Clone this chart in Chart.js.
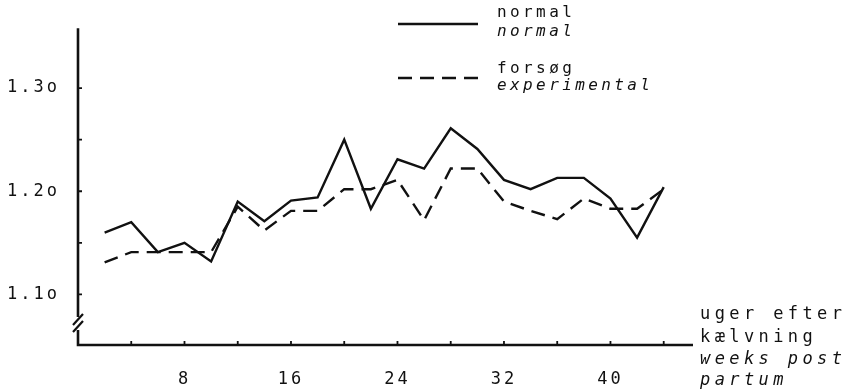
<!DOCTYPE html>
<html>
<head>
<meta charset="utf-8">
<script src="https://cdn.jsdelivr.net/npm/chart.js@4/dist/chart.umd.min.js"></script>
<style>
  html, body { margin: 0; padding: 0; background: #fff; }
  #wrap { width: 843px; height: 392px; }
</style>
</head>
<body>
<div id="wrap"><canvas id="c" width="843" height="392"></canvas></div>
<script>
// Weeks after calving and the two measured series
const weeks = [2, 4, 6, 8, 10, 12, 14, 16, 18, 20, 22, 24, 26, 28, 30, 32, 34, 36, 38, 40, 42, 44];
const normalValues = [1.160, 1.170, 1.141, 1.150, 1.132, 1.190, 1.171, 1.191, 1.194, 1.250, 1.183, 1.231,
                      1.222, 1.261, 1.241, 1.211, 1.202, 1.213, 1.213, 1.193, 1.155, 1.204];
const experimentalValues = [1.131, 1.141, 1.141, 1.141, 1.141, 1.185, 1.162, 1.181, 1.181, 1.202, 1.202, 1.211,
                            1.172, 1.222, 1.222, 1.190, 1.181, 1.173, 1.193, 1.183, 1.183, 1.202];

// Axis ticks and their printed labels
const xTickValues = [4, 8, 12, 16, 20, 24, 28, 32, 36, 40, 44];
const xLabelValues = [8, 16, 24, 32, 40];
const xTickLabels = ['8', '16', '24', '32', '40'];
const yTickValues = [1.10, 1.15, 1.20, 1.25, 1.30];
const yLabelValues = [1.10, 1.20, 1.30];
const yTickLabels = ['1.1o', '1.2o', '1.3o'];

// Legend and axis title texts
const seriesNamesDa = ['normal', 'forsøg'];
const seriesNamesEn = ['normal', 'experimental'];
const xTitleDa = ['uger efter', 'kælvning'];
const xTitleEn = ['weeks post', 'partum'];

const INK = '#111';
const MONO = '"DejaVu Sans Mono", "Liberation Mono", monospace';

const pointsOf = vals => weeks.map((w, i) => ({ x: w, y: vals[i] }));

// typewriter-like spacing for the tick labels
const typewriterSpacing = {
  id: 'typewriterSpacing',
  beforeDraw(chart) {
    chart.ctx.letterSpacing = '3px';
  }
};

const decorations = {
  id: 'decorations',
  afterDraw(chart) {
    const ctx = chart.ctx;
    const xs = chart.scales.x, ys = chart.scales.y;
    const l = chart.chartArea.left, r = chart.chartArea.right;
    const t = chart.chartArea.top, b = chart.chartArea.bottom;
    ctx.save();
    ctx.strokeStyle = INK;
    ctx.lineCap = 'butt';

    // axis lines, with the break marks on the value axis
    ctx.lineWidth = 2.6;
    ctx.beginPath();
    ctx.moveTo(l, t); ctx.lineTo(l, 317);
    ctx.moveTo(l, 330); ctx.lineTo(l, b);
    ctx.lineTo(r, b);
    ctx.stroke();
    ctx.lineWidth = 2.2;
    ctx.beginPath();
    ctx.moveTo(l - 5, 325); ctx.lineTo(l + 5, 314);
    ctx.moveTo(l - 5, 332); ctx.lineTo(l + 5, 321);
    ctx.stroke();

    // inward tick marks
    ctx.lineWidth = 1.8;
    ctx.beginPath();
    yTickValues.forEach(v => {
      const y = ys.getPixelForValue(v);
      ctx.moveTo(l, y); ctx.lineTo(l + 4, y);
    });
    xTickValues.forEach(v => {
      const x = xs.getPixelForValue(v);
      ctx.moveTo(x, b); ctx.lineTo(x, b - 4);
    });
    ctx.stroke();

    // legend
    ctx.fillStyle = INK;
    ctx.textBaseline = 'middle';
    ctx.textAlign = 'left';
    ctx.letterSpacing = '3.4px';
    const legendRows = [{ y: 24, t1: 13, t2: 32 }, { y: 78, t1: 69, t2: 86 }];
    chart.data.datasets.forEach((ds, i) => {
      const row = legendRows[i];
      ctx.lineWidth = ds.borderWidth + 0.3;
      ctx.setLineDash(ds.borderDash || []);
      ctx.beginPath();
      ctx.moveTo(398, row.y); ctx.lineTo(478, row.y);
      ctx.stroke();
      ctx.setLineDash([]);
      ctx.font = '16px ' + MONO;
      ctx.fillText(seriesNamesDa[i], 497, row.t1);
      ctx.font = 'italic 16px ' + MONO;
      ctx.fillText(seriesNamesEn[i], 497, row.t2);
    });

    // axis title at the right end of the week axis
    ctx.letterSpacing = '4.4px';
    ctx.font = '17px ' + MONO;
    ctx.fillText(xTitleDa[0], 700, 315);
    ctx.fillText(xTitleDa[1], 700, 338);
    ctx.font = 'italic 17px ' + MONO;
    ctx.fillText(xTitleEn[0], 700, 360);
    ctx.fillText(xTitleEn[1], 700, 381);
    ctx.restore();
  }
};

new Chart(document.getElementById('c'), {
  type: 'line',
  data: {
    datasets: [
      {
        label: seriesNamesDa[0],
        data: pointsOf(normalValues),
        borderColor: INK,
        borderWidth: 2.4,
        pointRadius: 0,
        tension: 0,
        fill: false
      },
      {
        label: seriesNamesDa[1],
        data: pointsOf(experimentalValues),
        borderColor: INK,
        borderWidth: 2.4,
        borderDash: [14, 8],
        pointRadius: 0,
        tension: 0,
        fill: false
      }
    ]
  },
  options: {
    responsive: false,
    animation: false,
    devicePixelRatio: 1,
    layout: { padding: { left: 0, top: 18, right: 150, bottom: 0 } },
    plugins: { legend: { display: false }, tooltip: { enabled: false } },
    scales: {
      x: {
        type: 'linear',
        min: 0,
        max: 46.2,
        afterBuildTicks: s => { s.ticks = xTickValues.map(v => ({ value: v })); },
        afterFit: s => { s.height = 47; },
        grid: { display: false, drawTicks: false },
        border: { display: false },
        ticks: {
          autoSkip: false,
          maxRotation: 0,
          padding: 24,
          color: INK,
          font: { family: MONO, size: 17 },
          callback: v => {
            const i = xLabelValues.indexOf(v);
            return i >= 0 ? xTickLabels[i] : '';
          }
        }
      },
      y: {
        min: 1.051,
        max: 1.358,
        afterBuildTicks: s => { s.ticks = yTickValues.map(v => ({ value: v })); },
        afterFit: s => { s.width = 78; },
        grid: { display: false, drawTicks: false },
        border: { display: false },
        ticks: {
          autoSkip: false,
          padding: 18,
          color: INK,
          font: { family: MONO, size: 17 },
          callback: v => {
            const i = yLabelValues.findIndex(u => Math.abs(u - v) < 1e-6);
            return i >= 0 ? yTickLabels[i] : '';
          }
        }
      }
    }
  },
  plugins: [typewriterSpacing, decorations]
});
</script>
</body>
</html>
